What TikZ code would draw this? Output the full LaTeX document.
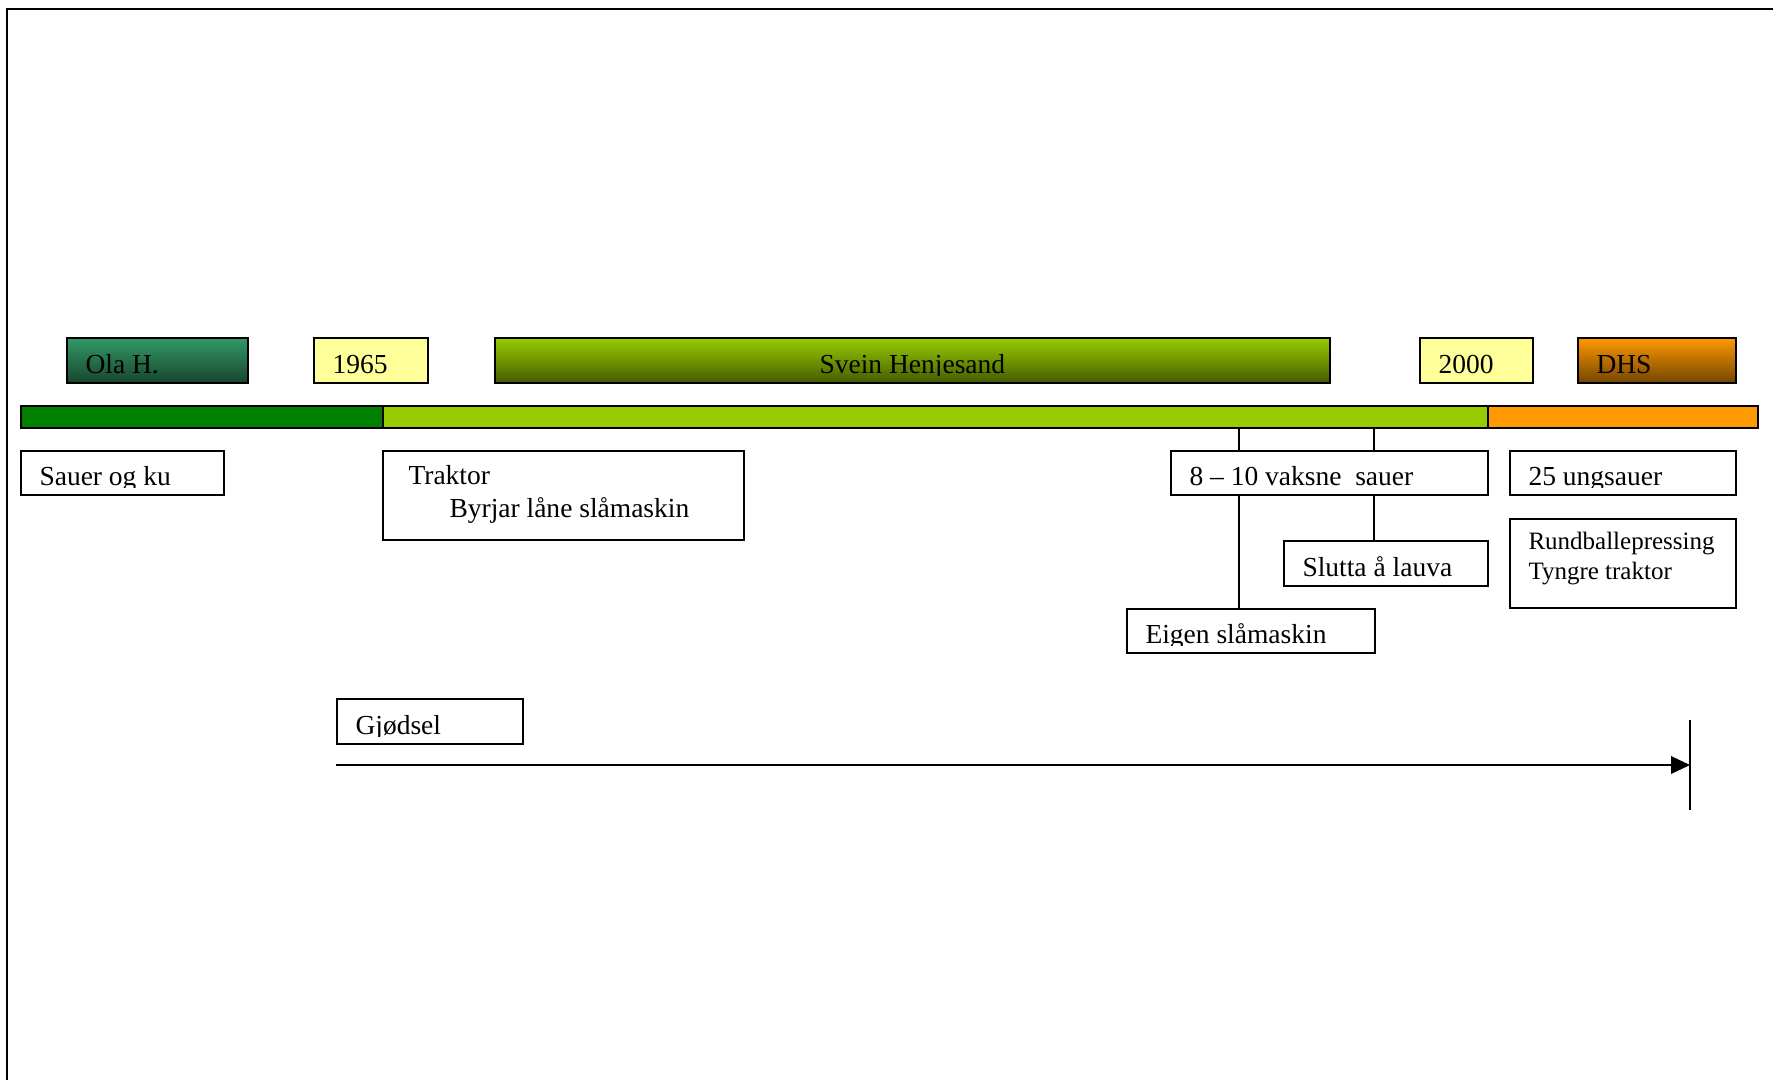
\documentclass[tikz,border=0pt]{standalone}
\usepackage{fontspec}
\setmainfont{Liberation Serif}
\usetikzlibrary{arrows.meta}

\definecolor{olagreen}{HTML}{339966}
\definecolor{sveingreen}{HTML}{99CC00}
\definecolor{dhsorange}{HTML}{FF9900}
\definecolor{bardark}{HTML}{008000}
\definecolor{yearyellow}{HTML}{FFFF99}

\def\px{0.4pt}

\tikzset{
  box/.style={draw=black, line width=0.7pt, fill=white, inner sep=0pt, anchor=north west},
  sz/.style 2 args={minimum width=#1*\px, minimum height=#2*\px},
  txt/.style={path picture={
    \clip ([yshift=3.1pt]path picture bounding box.south west) rectangle (path picture bounding box.north east);
    \node [anchor=base west, inner sep=0pt, minimum size=0pt] at ([xshift=7.1pt, yshift=3.9pt]path picture bounding box.south west) {#1};}},
  ctxt/.style={path picture={
    \clip ([yshift=3.1pt]path picture bounding box.south west) rectangle (path picture bounding box.north east);
    \node [anchor=base, inner sep=0pt, minimum size=0pt] at ([yshift=3.9pt]path picture bounding box.south) {#1};}},
  conn/.style={line width=0.6pt},
}

\begin{document}
\begin{tikzpicture}[x=\px, y=-\px, font=\fontsize{11pt}{13.2pt}\selectfont]

\useasboundingbox (0,0) rectangle (1773,1080);

% FRAME
\draw [line width=0.8pt] (7,1080) -- (7,9) -- (1773,9);

% OWNERS AND YEARS
\node [box, top color=olagreen, bottom color=olagreen!45!black, sz={181}{45}, txt={Ola H.}] (ola) at (66,337) {};
\node [box, fill=yearyellow, sz={114}{45}, txt={1965}] (y1965) at (313,337) {};
\node [box, top color=sveingreen, bottom color=sveingreen!45!black, sz={835}{45}, ctxt={Svein Henjesand}] (svein) at (494,337) {};
\node [box, fill=yearyellow, sz={113}{45}, txt={2000}] (y2000) at (1419,337) {};
\node [box, top color=dhsorange, bottom color=dhsorange!45!black, sz={158}{45}, txt={DHS}] (dhs) at (1577,337) {};

% TIMELINE
\node [box, fill=bardark, sz={362}{22}] (bar1) at (20,405) {};
\node [box, fill=sveingreen, sz={1105}{22}] (bar2) at (382,405) {};
\node [box, fill=dhsorange, sz={270}{22}] (bar3) at (1487,405) {};

% LINKS
\coordinate (k1) at (1239,427);
\coordinate (k2) at (1374,427);

% EVENTS
\node [box, sz={248}{44}, txt={Eigen slåmaskin}] (slaamaskin) at (1126,608) {};
\node [box, sz={204}{45}, txt={Slutta å lauva}] (lauva) at (1283,540) {};
\draw [conn] (k1) -- (k1 |- slaamaskin.north);
\draw [conn] (k2) -- (k2 |- lauva.north);

\node [box, sz={203}{44}, txt={Sauer og ku}] (sauer) at (20,450) {};
\node [box, sz={361}{89}] (traktor) at (382,450) {};
\node [anchor=base west, inner sep=0pt] (traktor1) at ([shift={(10.4pt,-13.6pt)}]traktor.north west) {Traktor};
\node [anchor=base west, inner sep=0pt] (traktor2) at ([shift={(26.8pt,-26.8pt)}]traktor.north west) {Byrjar låne slåmaskin};
\node [box, sz={317}{44}, txt={8 -- 10 vaksne~ sauer}] (vaksne) at (1170,450) {};
\node [box, sz={226}{44}, txt={25 ungsauer}] (unge) at (1509,450) {};
\node [box, sz={226}{89}] (rundball) at (1509,518) {};
\node [anchor=base west, inner sep=0pt, font=\fontsize{10pt}{12pt}\selectfont] (rundball1) at ([shift={(7.6pt,-12.6pt)}]rundball.north west) {Rundballepressing};
\node [anchor=base west, inner sep=0pt, font=\fontsize{10pt}{12pt}\selectfont] (rundball2) at ([shift={(7.6pt,-24.4pt)}]rundball.north west) {Tyngre traktor};

% GJØDSEL
\node [box, sz={186}{45}, txt={Gjødsel}] (gjodsel) at (336,698) {};
\coordinate (g0) at (336,765);
\coordinate (g1) at (1690,765);
\draw [line width=0.8pt, -{Triangle[length=7.6pt, width=7pt]}] (g0) -- (g1);
\draw [line width=0.5pt] ([yshift=18pt]g1) -- ([yshift=-18pt]g1);

\end{tikzpicture}
\end{document}
